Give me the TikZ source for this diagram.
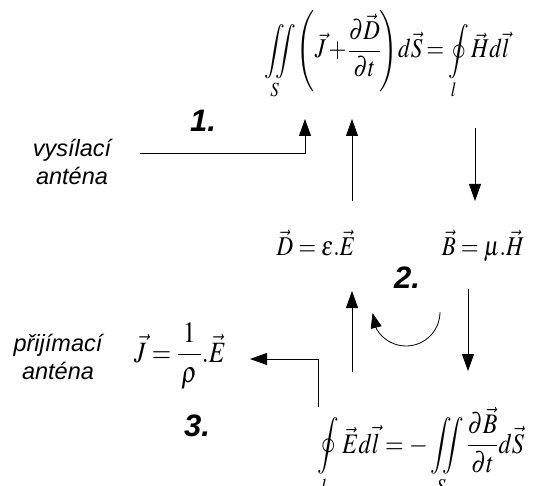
\documentclass[tikz,border=0pt]{standalone}
\usepackage{amsmath}
\usepackage{mathptmx}
\usepackage{graphicx}
\usepackage[no-math]{fontspec}
\setsansfont{Liberation Sans}
\usetikzlibrary{arrows.meta}
\newcommand\eqtight{\thickmuskip=3mu\relax\medmuskip=2mu\relax\nulldelimiterspace=0pt\relax}
\newcommand\tallmath[1]{\scalebox{1}[1.18]{#1}}
\begin{document}
\begin{tikzpicture}[x=1pt,y=-1pt,
  arr/.style={line width=0.8pt,-{Triangle[length=17pt,width=12pt]}},
  carr/.style={line width=0.8pt,-{Triangle[length=15pt,width=11pt]}},
  lbl/.style={font=\fontsize{23.5}{28}\selectfont\sffamily\itshape,align=center,inner sep=0pt},
  num/.style={font=\fontsize{31}{34}\selectfont\sffamily\bfseries\itshape,inner sep=0pt},
  eq/.style={font=\fontsize{23}{28}\selectfont,inner sep=0pt}]
\useasboundingbox (0,0) rectangle (535,486);
% equations
\node[eq,anchor=base] (top) at (387,58) {\tallmath{\eqtight$\displaystyle \iint\limits_S \Biggl(\vec J+\frac{\partial\vec D}{\partial t}\Biggr)d\vec S=\oint\limits_l \vec H d\vec l$}};
\node[eq,anchor=base] (dE) at (316,255) {\tallmath{$\vec D=\varepsilon.\vec E$}};
\node[eq,anchor=base] (bH) at (483,255) {\tallmath{$\vec B=\mu.\vec H$}};
\node[eq,anchor=base,font=\fontsize{25}{30}\selectfont] (jE) at (180,362) {\tallmath{$\vec J=\dfrac{\hspace{5pt}1\hspace{5pt}}{\rho}.\vec E$}};
\node[eq,anchor=base,font=\fontsize{24}{29}\selectfont] (eqE) at (421,453) {\tallmath{$\displaystyle\oint\limits_l \vec E d\vec l=-\iint\limits_S\frac{\partial\vec B}{\partial t}d\vec S$}};
% labels
\node[lbl] (vys) at (72,162) {vysílací\\anténa};
\node[lbl] (prij) at (58,357) {přijímací\\anténa};
\node[num] (n1) at (203,121) {1.};
\node[num] (n2) at (407,278) {2.};
\node[num] (n3) at (197,426) {3.};
% connector coordinates
\coordinate (a1s) at (140,153); \coordinate (a1e) at (305,119);
\coordinate (a2s) at (352,201); \coordinate (a2e) at (352,119);
\coordinate (a3s) at (475,128); \coordinate (a3e) at (475,201);
\coordinate (a4s) at (352,372); \coordinate (a4e) at (352,291);
\coordinate (a5s) at (468,289); \coordinate (a5e) at (468,371);
\coordinate (a6s) at (318,407); \coordinate (a6e) at (250,359);
\coordinate (c1) at (440,312);
% connectors
\draw[arr] (a1s) -| (a1e);
\draw[arr] (a2s) -- (a2e);
\draw[arr] (a3s) -- (a3e);
\draw[arr] (a4s) -- (a4e);
\draw[arr] (a5s) -- (a5e);
\draw[arr] (a6s) |- (a6e);
\draw[carr] (c1) arc[start angle=0,end angle=150,radius=34] -- ++(-4,-16);
\end{tikzpicture}
\end{document}
